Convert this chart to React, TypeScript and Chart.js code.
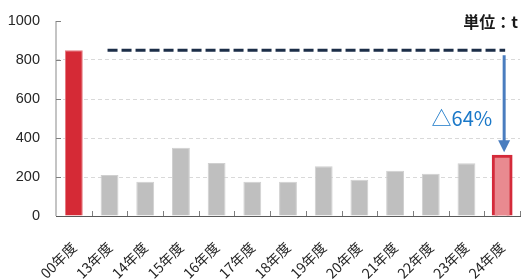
import React, { useEffect, useRef } from "react";
import { Chart, registerables } from "chart.js";

Chart.register(...registerables);

const categories = ["00年度", "13年度", "14年度", "15年度", "16年度", "17年度", "18年度", "19年度", "20年度", "21年度", "22年度", "23年度", "24年度"];
const values = [850, 210, 176, 350, 272, 176, 176, 255, 186, 232, 217, 270, 306];
const yMin = 0;
const yMax = 1000;
const yStep = 200;
const unitLabel = "単位：t";

const barFill = values.map((_, i) => (i === 0 ? "#d52a36" : i === values.length - 1 ? "#e98a90" : "#bfbfbf"));
const barBorder = values.map((_, i) => (i === 0 ? "#e5787f" : i === values.length - 1 ? "#d42a3a" : "#d0d0d0"));
const barBorderW = values.map((_, i) => (i === values.length - 1 ? 3 : 1));
const barInflate = values.map((_, i) => (i === values.length - 1 ? 1.5 : 0));

const overlay = {
  id: "overlay",
  afterDatasetsDraw(chart: any) {
    const { ctx, chartArea, scales } = chart;
    const x = scales.x;
    const y = scales.y;
    ctx.save();
    // y axis line
    ctx.strokeStyle = "#c4c4c4";
    ctx.lineWidth = 2;
    ctx.beginPath();
    ctx.moveTo(chartArea.left, chartArea.top);
    ctx.lineTo(chartArea.left, chartArea.bottom);
    ctx.stroke();
    // inward y ticks
    ctx.strokeStyle = "#7f7f7f";
    ctx.lineWidth = 1;
    y.ticks.forEach((t: any) => {
      const py = Math.round(y.getPixelForValue(t.value)) + 0.5;
      if (t.value === yMin) return;
      ctx.beginPath();
      ctx.moveTo(chartArea.left, py);
      ctx.lineTo(chartArea.left + 5, py);
      ctx.stroke();
    });
    // inward x ticks
    for (let i = 1; i <= categories.length; i++) {
      const px = Math.round(x.getPixelForValue(i - 0.5)) + 0.5;
      ctx.beginPath();
      ctx.moveTo(px, chartArea.bottom);
      ctx.lineTo(px, chartArea.bottom - 5);
      ctx.stroke();
    }
    const last = values.length - 1;
    const yRef = y.getPixelForValue(values[0]);
    const yLast = y.getPixelForValue(values[last]);
    const xEnd = x.getPixelForValue(last) + 3;
    // dashed reference line
    ctx.strokeStyle = "#1c2e48";
    ctx.lineWidth = 3;
    ctx.setLineDash([10, 4]);
    ctx.beginPath();
    ctx.moveTo(x.getPixelForValue(1) - 2, yRef);
    ctx.lineTo(xEnd, yRef);
    ctx.stroke();
    ctx.setLineDash([]);
    // arrow
    const ax = x.getPixelForValue(last) + 2;
    const tip = yLast - 4;
    ctx.strokeStyle = "#4a7dbf";
    ctx.fillStyle = "#4a7dbf";
    ctx.lineWidth = 3;
    ctx.beginPath();
    ctx.moveTo(ax, yRef + 5);
    ctx.lineTo(ax, tip - 10);
    ctx.stroke();
    ctx.beginPath();
    ctx.moveTo(ax - 6, tip - 12);
    ctx.lineTo(ax + 6, tip - 12);
    ctx.lineTo(ax, tip);
    ctx.closePath();
    ctx.fill();
    // percentage label
    const pct = Math.round((1 - values[last] / values[0]) * 100);
    ctx.fillStyle = "#1a78c8";
    ctx.font = '20px "Noto Sans CJK JP"';
    ctx.textAlign = "right";
    ctx.textBaseline = "alphabetic";
    ctx.fillText("△" + pct + "%", ax - 12, yRef + (yLast - yRef) * 0.71);
    // unit label
    ctx.fillStyle = "#1a1a1a";
    ctx.font = 'bold 16px "Noto Sans CJK JP"';
    ctx.textBaseline = "middle";
    ctx.fillText(unitLabel, chartArea.right - 2, chartArea.top + 1);
    ctx.restore();
  },
};

export default function App() {
  const ref = useRef<HTMLCanvasElement>(null);
  useEffect(() => {
    if (!ref.current) return;
    const chart = new Chart(ref.current, {
      type: "bar",
      data: {
        labels: categories,
        datasets: [
          {
            data: values,
            backgroundColor: barFill,
            borderColor: barBorder,
            borderWidth: barBorderW,
            inflateAmount: barInflate as any,
            categoryPercentage: 1,
            barPercentage: 0.5,
          } as any,
        ],
      },
      options: {
        responsive: false,
        animation: false,
        layout: { padding: { top: 21, right: 10, left: 0, bottom: 0 } },
        plugins: { legend: { display: false }, tooltip: { enabled: false }, title: { display: false } },
        scales: {
          x: {
            grid: { display: false },
            border: { display: true, color: "#595959", width: 1 },
            ticks: {
              maxRotation: 45,
              minRotation: 45,
              padding: 15,
              color: "#262626",
              font: { family: '"Noto Sans CJK JP"', size: 14 },
            },
            afterFit: (s: any) => {
              s.height = 64;
              s.paddingLeft = 0;
              s.paddingRight = 0;
            },
          },
          y: {
            min: yMin,
            max: yMax,
            ticks: {
              stepSize: yStep,
              padding: 16,
              color: "#262626",
              font: { family: '"Liberation Sans"', size: 14.5 },
              callback: (v: any) => String(v),
            },
            grid: {
              drawTicks: false,
              color: (c: any) => (c.tick && (c.tick.value === yMin || c.tick.value === yMax) ? "rgba(0,0,0,0)" : "#d9d9d9"),
              lineWidth: 1,
            },
            border: { display: false, dash: [4, 3] },
            afterFit: (s: any) => {
              s.width = 56;
              s.paddingTop = 0;
              s.paddingBottom = 0;
            },
          },
        },
      },
      plugins: [overlay],
    });
    return () => chart.destroy();
  }, []);
  return (
    <div style={{ position: "absolute", left: 0, top: 0, width: 530, height: 280, background: "#fff" }}>
      <canvas ref={ref} width={530} height={280} />
    </div>
  );
}
